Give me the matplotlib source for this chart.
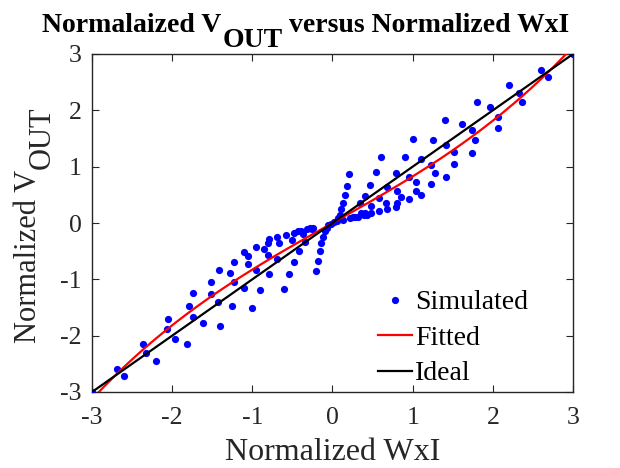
import numpy as np
import matplotlib
matplotlib.use("Agg")
import matplotlib.pyplot as plt

plt.rcParams['font.family'] = ['Liberation Serif', 'DejaVu Serif']
plt.rcParams['axes.unicode_minus'] = False

# Simulated points
sim_x = [-3.00, -2.69, -2.60, -2.37, -2.33, -2.20, -2.05, -2.06, -1.97, -1.81,
         -1.79, -1.74, -1.74, -1.61, -1.51, -1.51, -1.43, -1.42, -1.40, -1.28,
         -1.25, -1.23, -1.23, -1.11, -1.10, -1.05, -1.05, -1.00, -0.96, -0.96,
         -0.90, -0.86, -0.81, -0.81, -0.79, -0.79, -0.69, -0.67, -0.69, -0.60,
         -0.58, -0.54, -0.48, -0.48, -0.42, -0.51, -0.43, -0.39, -0.37, -0.34,
         -0.32, -0.28, -0.26, -0.24, -0.20, -0.18, -0.16, -0.14, -0.12, -0.09,
         -0.07, -0.05, -0.02,
         3.00, 2.60, 2.69, 2.20, 2.33, 2.37, 1.80, 1.97, 2.06, 2.06,
         1.40, 1.61, 1.74, 1.78, 1.74, 1.00, 1.25, 1.42, 1.51, 1.51,
         1.42, 1.23, 1.28, 1.23, 1.10, 1.04, 1.04, 1.10, 0.95, 0.96,
         0.90, 0.79, 0.81, 0.85, 0.81, 0.79, 0.68, 0.67, 0.68, 0.58,
         0.58, 0.60, 0.54, 0.47, 0.41, 0.48, 0.48, 0.34, 0.36, 0.41,
         0.28, 0.22, 0.13, 0.20, 0.18, 0.16, 0.13, 0.11, 0.09, 0.07,
         0.05, 0.02, 0.26, 0.32, 0.39, 0.43]
sim_y = [-3.00, -2.60, -2.72, -2.15, -2.31, -2.45, -1.70, -1.89, -2.06, -2.14,
         -1.47, -1.24, -1.66, -1.77, -1.05, -1.26, -1.40, -0.83, -1.83, -0.89,
         -1.48, -0.69, -1.04, -0.51, -1.15, -0.59, -0.73, -1.50, -0.43, -0.83,
         -1.19, -0.47, -0.56, -0.35, -0.29, -0.90, -0.24, -0.36, -0.64, -1.18,
         -0.21, -0.91, -0.17, -0.69, -0.49, -0.30, -0.15, -0.14, -0.20, -0.33,
         -0.11, -0.09, -0.11, -0.08, -0.86, -0.67, -0.50, -0.36, -0.25, -0.15,
         -0.09, -0.04, -0.02,
         3.00, 2.72, 2.60, 2.45, 2.31, 2.14, 2.14, 2.06, 1.89, 1.69,
         1.82, 1.76, 1.65, 1.47, 1.24, 1.49, 1.47, 1.39, 1.26, 1.05,
         0.82, 1.03, 0.88, 0.69, 1.14, 0.72, 0.57, 0.50, 0.82, 0.42,
         1.18, 0.89, 0.57, 0.47, 0.36, 0.29, 0.64, 0.36, 0.24, 0.44,
         0.21, 1.18, 0.91, 0.68, 0.48, 0.31, 0.17, 0.35, 0.17, 0.17,
         0.11, 0.09, 0.05, 0.87, 0.66, 0.49, 0.35, 0.25, 0.15, 0.09,
         0.04, 0.02, 0.11, 0.11, 0.14, 0.15]

# Fitted curve coefficients (odd cubic): y = a*x + b*x^3
fit_a = 0.80
fit_b = 0.027
x_range = [-3.2, 3.2]
ideal_range = [-3, 3]
ticks = [-3, -2, -1, 0, 1, 2, 3]

W, H = 620, 468
fig = plt.figure(figsize=(W / 100, H / 100), dpi=100)
ax = fig.add_axes([92 / W, 1 - 392 / H, 481 / W, 338 / H])

xf = np.linspace(x_range[0], x_range[1], 300)
yf = fit_a * xf + fit_b * xf ** 3

ax.plot(sim_x, sim_y, 'o', color=(0, 0, 1), markersize=5.2, markeredgewidth=0,
        label='Simulated', zorder=3)
ax.plot(xf, yf, '-', color=(1, 0, 0), linewidth=1.6, label='Fitted', zorder=4)
ax.plot(ideal_range, ideal_range, '-', color='black', linewidth=1.6, label='Ideal', zorder=5)

ax.set_xlim(-3, 3)
ax.set_ylim(-3, 3)
ax.set_xticks(ticks)
ax.set_yticks(ticks)
ax.tick_params(direction='in', top=True, right=True, labelsize=18.5, length=5,
               width=0.8, colors='#262626', labelcolor='#262626')
ax.tick_params(axis='x', pad=11)
ax.tick_params(axis='y', pad=7.5)
for s in ax.spines.values():
    s.set_color('#262626')
    s.set_linewidth(1.0)

ax.set_xlabel('Normalized WxI', fontsize=23, color='#262626', labelpad=6)

leg = ax.legend(loc='upper left', frameon=False, fontsize=20, handlelength=1.22,
                handletextpad=0.12, labelspacing=0.36, borderpad=0, borderaxespad=0,
                bbox_to_anchor=((378 - 92) / 481, (392 - 290) / 338))
for t in leg.get_texts():
    t.set_color('#000000')

renderer = fig.canvas.get_renderer()

def px2fig(x, y):
    return x / W, 1 - y / H

# Title with MATLAB-style deep subscript
tkw = dict(fontsize=20, fontweight='bold', color='black', va='baseline', ha='left')
x0 = 42
t1 = fig.text(*px2fig(x0, 31.7), 'Normalaized V', **tkw)
w1 = t1.get_window_extent(renderer).width
t2 = fig.text(*px2fig(x0 + w1 + 1, 46.7), 'OUT', **tkw)
w2 = t2.get_window_extent(renderer).width
t3 = fig.text(*px2fig(x0 + w1 + 1 + w2, 31.7), ' versus Normalized WxI', **tkw)

# Y label with MATLAB-style deep subscript
ykw = dict(fontsize=22, color='#262626', rotation=90, rotation_mode='anchor',
           ha='left', va='baseline')
y0 = 343
l1 = fig.text(*px2fig(36.5, y0), 'Normalized V', **ykw)
h1 = l1.get_window_extent(renderer).height
l2 = fig.text(*px2fig(50, y0 - h1 - 1), 'OUT', **ykw)

fig.savefig('out.png', dpi=100)
